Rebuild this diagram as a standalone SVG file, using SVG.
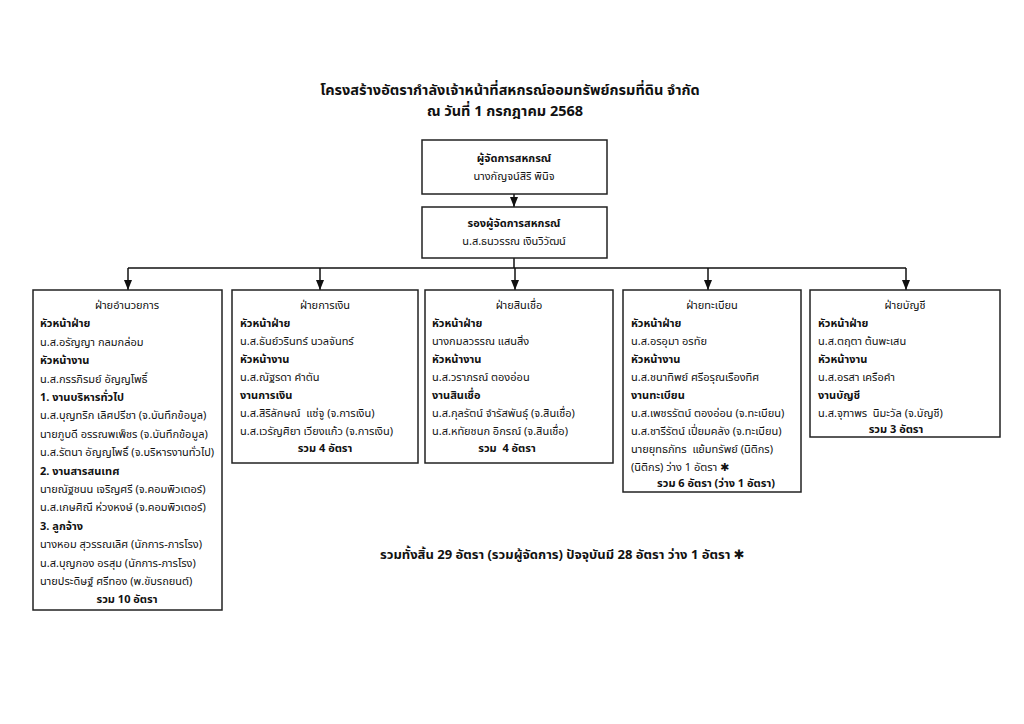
<svg xmlns="http://www.w3.org/2000/svg" width="1024" height="724" viewBox="0 0 1024 724">
<style>
text{font-family:"Noto Sans Thai","Tahoma","DejaVu Sans","Noto Sans",sans-serif;font-size:11px;fill:#111;white-space:pre}
.b{font-weight:bold}
.c{text-anchor:middle}
.t{font-size:14.5px;font-weight:bold;text-anchor:middle}
.box{fill:#fff;stroke:#222;stroke-width:1.5}
.ln{stroke:#111;stroke-width:1.5;fill:none}
</style>
<defs>
<marker id="ar" markerWidth="10" markerHeight="8" refX="10" refY="4" orient="auto" markerUnits="userSpaceOnUse" viewBox="0 0 10 8">
<path d="M0,0 L10,4 L0,8 Z" fill="#111"/>
</marker>
</defs>
<rect width="1024" height="724" fill="#fff"/>
<text class="t" x="510" y="95">โครงสร้างอัตรากำลังเจ้าหน้าที่สหกรณ์ออมทรัพย์กรมที่ดิน จำกัด</text>
<text class="t" x="505" y="116">ณ วันที่ 1 กรกฎาคม 2568</text>

<g id="connectors">
<line class="ln" x1="514" y1="194" x2="514" y2="207" marker-end="url(#ar)"/>
<line class="ln" x1="514" y1="258" x2="514" y2="268"/>
<line class="ln" x1="128" y1="268" x2="906" y2="268"/>
<line class="ln" x1="128" y1="268" x2="128" y2="290" marker-end="url(#ar)"/>
<line class="ln" x1="320" y1="268" x2="320" y2="290" marker-end="url(#ar)"/>
<line class="ln" x1="515" y1="268" x2="515" y2="290" marker-end="url(#ar)"/>
<line class="ln" x1="708" y1="268" x2="708" y2="290" marker-end="url(#ar)"/>
<line class="ln" x1="906" y1="268" x2="906" y2="290" marker-end="url(#ar)"/>
</g>

<g id="manager">
<rect class="box" x="422" y="140" width="185" height="54"/>
<text class="b c" x="514" y="162">ผู้จัดการสหกรณ์</text>
<text class="c" x="514" y="180">นางกัญจน์สิริ พินิจ</text>
</g>

<g id="deputy">
<rect class="box" x="422" y="207" width="185" height="51"/>
<text class="b c" x="514" y="227">รองผู้จัดการสหกรณ์</text>
<text class="c" x="514" y="245">น.ส.ธนวรรณ เงินวิวัฒน์</text>
</g>

<g id="admin">
<rect class="box" x="33" y="290" width="189" height="320"/>
<text class="c" x="127" y="309">ฝ่ายอำนวยการ</text>
<text class="b" x="40" y="327.4">หัวหน้าฝ่าย</text>
<text x="40" y="345.8">น.ส.อรัญญา กลมกล่อม</text>
<text class="b" x="40" y="364.2">หัวหน้างาน</text>
<text x="40" y="382.6">น.ส.กรรภิรมย์ อัญญโพธิ์</text>
<text class="b" x="40" y="401">1. งานบริหารทั่วไป</text>
<text x="40" y="419.4">น.ส.บุญทริก เลิศปรีชา (จ.บันทึกข้อมูล)</text>
<text x="40" y="437.8">นายภูบดี อรรณพเพ็ชร (จ.บันทึกข้อมูล)</text>
<text x="40" y="456.2">น.ส.รัตนา อัญญโพธิ์ (จ.บริหารงานทั่วไป)</text>
<text class="b" x="40" y="474.6">2. งานสารสนเทศ</text>
<text x="40" y="493">นายณัฐชนน เจริญศรี (จ.คอมพิวเตอร์)</text>
<text x="40" y="511.4">น.ส.เกษศิณี ห่วงหงษ์ (จ.คอมพิวเตอร์)</text>
<text class="b" x="40" y="529.8">3. ลูกจ้าง</text>
<text x="40" y="548.2">นางหอม สุวรรณเลิศ (นักการ-ภารโรง)</text>
<text x="40" y="566.6">น.ส.บุญกอง อรสุม (นักการ-ภารโรง)</text>
<text x="40" y="585">นายประดิษฐ์ ศรีทอง (พ.ขับรถยนต์)</text>
<text class="b c" x="127" y="603.4">รวม 10 อัตรา</text>
</g>

<g id="finance">
<rect class="box" x="232" y="290" width="186" height="173"/>
<text class="c" x="325" y="309">ฝ่ายการเงิน</text>
<text class="b" x="240" y="327">หัวหน้าฝ่าย</text>
<text x="240" y="345">น.ส.ธันย์วรินทร์ นวลจันทร์</text>
<text class="b" x="240" y="363">หัวหน้างาน</text>
<text x="240" y="381">น.ส.ณัฐรดา คำตัน</text>
<text class="b" x="240" y="399">งานการเงิน</text>
<text x="240" y="417">น.ส.สิริลักษณ์  แซ่จู (จ.การเงิน)</text>
<text x="240" y="435">น.ส.เวรัญศิยา เวียงแก้ว (จ.การเงิน)</text>
<text class="b c" x="325" y="452">รวม 4 อัตรา</text>
</g>

<g id="credit">
<rect class="box" x="425" y="290" width="188" height="173"/>
<text class="c" x="519" y="309">ฝ่ายสินเชื่อ</text>
<text class="b" x="432" y="327">หัวหน้าฝ่าย</text>
<text x="432" y="345">นางกมลวรรณ แสนสิ่ง</text>
<text class="b" x="432" y="363">หัวหน้างาน</text>
<text x="432" y="381">น.ส.วราภรณ์ ตองอ่อน</text>
<text class="b" x="432" y="399">งานสินเชื่อ</text>
<text x="432" y="417">น.ส.กุลรัตน์ จำรัสพันธุ์ (จ.สินเชื่อ)</text>
<text x="432" y="435">น.ส.หทัยชนก อิกรณ์ (จ.สินเชื่อ)</text>
<text class="b c" x="507" y="452">รวม  4 อัตรา</text>
</g>

<g id="registry">
<rect class="box" x="623" y="290" width="178" height="202"/>
<text class="c" x="712" y="309">ฝ่ายทะเบียน</text>
<text class="b" x="631" y="327">หัวหน้าฝ่าย</text>
<text x="631" y="345">น.ส.อรอุมา อรทัย</text>
<text class="b" x="631" y="363">หัวหน้างาน</text>
<text x="631" y="381">น.ส.ชนาทิพย์ ศรีอรุณเรืองทิศ</text>
<text class="b" x="631" y="399">งานทะเบียน</text>
<text x="631" y="417">น.ส.เพชรรัตน์ ตองอ่อน (จ.ทะเบียน)</text>
<text x="631" y="435">น.ส.ชารีรัตน์ เปี่ยมคลัง (จ.ทะเบียน)</text>
<text x="631" y="453">นายยุทธภัทร  แย้มทรัพย์ (นิติกร)</text>
<text x="631" y="471">(นิติกร) ว่าง 1 อัตรา <tspan class="b">✱</tspan></text>
<text class="b c" x="716" y="487">รวม 6 อัตรา (ว่าง 1 อัตรา)</text>
</g>

<g id="accounting">
<rect class="box" x="810" y="290" width="190" height="147"/>
<text class="c" x="905" y="309">ฝ่ายบัญชี</text>
<text class="b" x="818" y="327">หัวหน้าฝ่าย</text>
<text x="818" y="345">น.ส.ตฤตา ต้นพะเสน</text>
<text class="b" x="818" y="363">หัวหน้างาน</text>
<text x="818" y="381">น.ส.อรสา เครือคำ</text>
<text class="b" x="818" y="399">งานบัญชี</text>
<text x="818" y="417">น.ส.จุฑาพร  นิมะวัล (จ.บัญชี)</text>
<text class="b c" x="896" y="433">รวม 3 อัตรา</text>
</g>

<text class="b" x="380" y="559" style="font-size:13px">รวมทั้งสิ้น 29 อัตรา (รวมผู้จัดการ) ปัจจุบันมี 28 อัตรา ว่าง 1 อัตรา ✱</text>
</svg>
